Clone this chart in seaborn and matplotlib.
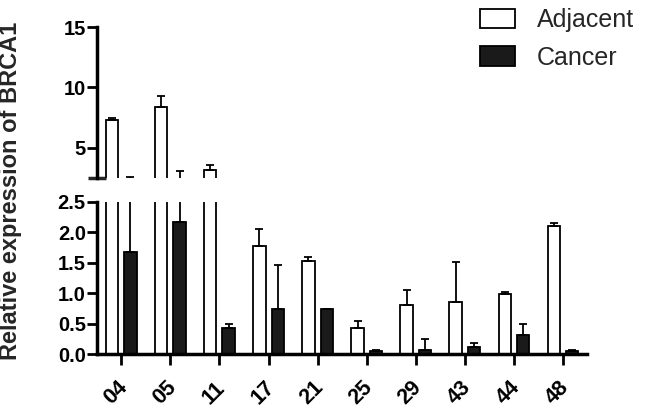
import numpy as np
import pandas as pd
import matplotlib
matplotlib.use("Agg")
import matplotlib.pyplot as plt
import matplotlib.transforms as mtransforms
import seaborn as sns

samples = ["04", "05", "11", "17", "21", "25", "29", "43", "44", "48"]
adjacent_mean = [7.30, 8.36, 3.20, 1.78, 1.53, 0.42, 0.80, 0.86, 0.99, 2.10]
adjacent_err = [0.15, 0.90, 0.40, 0.28, 0.07, 0.12, 0.25, 0.65, 0.03, 0.06]
cancer_mean = [1.67, 2.17, 0.42, 0.74, 0.74, 0.045, 0.066, 0.115, 0.31, 0.045]
cancer_err = [0.88, 0.88, 0.08, 0.73, 0.0, 0.025, 0.18, 0.065, 0.18, 0.025]
groups = ["Adjacent", "Cancer"]
top_ticks = [5, 10, 15]
bottom_ticks = [0.0, 0.5, 1.0, 1.5, 2.0, 2.5]

df = pd.DataFrame({
    "sample": samples * 2,
    "group": [groups[0]] * len(samples) + [groups[1]] * len(samples),
    "value": adjacent_mean + cancer_mean,
})
errs = {groups[0]: adjacent_err, groups[1]: cancer_err}

sns.set_theme(style="ticks")
plt.rcParams["font.family"] = ["Liberation Sans", "DejaVu Sans"]

fig = plt.figure(figsize=(6.46, 4.17), dpi=100)
ax_top = fig.add_axes([0.150, 0.573, 0.759, 0.362])
ax_bot = fig.add_axes([0.150, 0.151, 0.759, 0.365])

palette = {groups[0]: "white", groups[1]: "#1a1a1a"}
for ax in (ax_top, ax_bot):
    sns.barplot(data=df, x="sample", y="value", hue="group", hue_order=groups,
                palette=palette, edgecolor="black", linewidth=1.3,
                width=0.74, gap=0.33, errorbar=None, legend=(ax is ax_top), ax=ax)
    for cont, g in zip(ax.containers, groups):
        xs = [b.get_x() + b.get_width() / 2 for b in cont]
        ys = [b.get_height() for b in cont]
        e = np.array(errs[g])
        ax.errorbar(xs, ys, yerr=[np.zeros_like(e), e], fmt="none",
                    ecolor="black", elinewidth=1.3, capsize=3, capthick=1.3,
                    zorder=1)
    ax.set_xlim(-0.5, len(samples) - 0.5)
    ax.set_xlabel("")
    ax.set_ylabel("")

# top panel
ax_top.set_ylim(2.5, 15)
ax_top.set_yticks(top_ticks)
ax_top.set_yticklabels([str(t) for t in top_ticks])
ax_top.set_yticks([2.5], minor=True)
ax_top.tick_params(axis="y", which="minor", direction="inout", length=13, width=2.5)
ax_top.set_xticks([])
for s in ("top", "right", "bottom"):
    ax_top.spines[s].set_visible(False)

# bottom panel
ax_bot.set_ylim(0, 2.5)
ax_bot.set_yticks(bottom_ticks)
ax_bot.set_yticklabels([f"{t:.1f}" for t in bottom_ticks])
for s in ("top", "right"):
    ax_bot.spines[s].set_visible(False)

for ax in (ax_top, ax_bot):
    ax.spines["left"].set_linewidth(2.5)
    ax.spines["bottom"].set_linewidth(2.5)
    ax.spines["left"].set_color("black")
    ax.spines["bottom"].set_color("black")
    ax.tick_params(axis="y", which="major", direction="out", length=7.5, width=2,
                   labelsize=14.5, pad=0.5, colors="black")
    ax.patch.set_alpha(0)
    for lab in ax.get_yticklabels():
        lab.set_fontweight("bold")

ax_bot.tick_params(axis="x", direction="out", length=8, width=2, labelsize=15.5,
                   pad=14, colors="black")
offset = mtransforms.ScaledTranslation(2 / 72, 0, fig.dpi_scale_trans)
for lab in ax_bot.get_xticklabels():
    lab.set_rotation(45)
    lab.set_rotation_mode("anchor")
    lab.set_ha("right")
    lab.set_va("center")
    lab.set_fontweight("bold")
    lab.set_transform(lab.get_transform() + offset)

fig.text(0.017, 0.543, "Relative expression of BRCA1", rotation=90,
         ha="center", va="center", fontsize=17, fontweight="bold")

sns.move_legend(ax_top, loc="upper left", bbox_to_anchor=(0.727, 1.005),
                bbox_transform=fig.transFigure, frameon=False, title=None,
                fontsize=18, handlelength=1.4, handleheight=0.8,
                handletextpad=0.9, labelspacing=0.55, borderaxespad=0.0)
leg = ax_top.get_legend()
for h in leg.legend_handles:
    h.set_edgecolor("black")
    h.set_linewidth(1.3)

fig.savefig("out.png", dpi=100)
